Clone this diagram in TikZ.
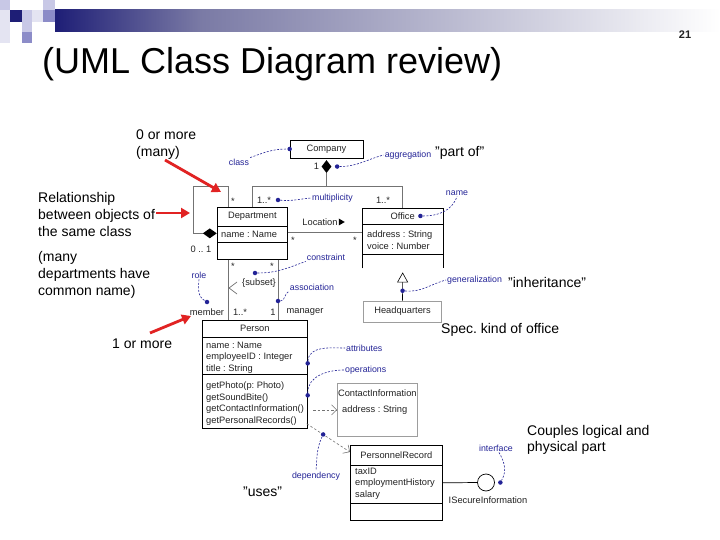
\documentclass[tikz,border=0pt]{standalone}
\usepackage{fontspec}
\setmainfont{Liberation Sans}
\usetikzlibrary{positioning,calc,arrows.meta,shapes.geometric}
\frenchspacing

\definecolor{notecol}{RGB}{35,35,150}
\definecolor{redarr}{RGB}{225,35,35}
\definecolor{navy}{RGB}{30,30,118}
\definecolor{barA}{RGB}{122,122,165}
\definecolor{barB}{RGB}{236,236,241}
\definecolor{lavM}{RGB}{140,140,200}
\definecolor{lavL}{RGB}{200,200,230}
\definecolor{lavXL}{RGB}{228,228,242}
\definecolor{linegray}{RGB}{115,115,115}
\definecolor{txtdark}{RGB}{35,35,35}

\newcommand{\umlfont}{\fontsize{9.3}{11.8}\selectfont}
\newcommand{\notefont}{\fontsize{8.8}{10}\selectfont}
\newcommand{\bigfont}{\fontsize{14}{17}\selectfont}

\begin{document}
\begin{tikzpicture}[x=1pt, y=-1pt,
	clsbox/.style={draw, line width=0.7pt, fill=white, inner sep=0pt,
		anchor=north west, font=\umlfont, text=txtdark},
	graybox/.style={clsbox, draw=linegray!70},
	clsline/.style={draw=black, line width=0.7pt},
	clstxt/.style={font=\umlfont, text=txtdark, inner sep=0pt},
	attrtxt/.style={clstxt, anchor=north west, align=left},
	mult/.style={font=\umlfont, text=txtdark, inner sep=0pt},
	assoc/.style={draw=linegray, line width=0.7pt},
	gen/.style={draw=black, line width=0.6pt, -{Triangle[open, length=10pt, width=11pt]}},
	dep/.style={draw=linegray, dash pattern=on 2.5pt off 2pt, line width=0.6pt,
		-{Straight Barb[length=5pt, width=10pt]}},
	notecurve/.style={notecol, dash pattern=on 2pt off 1.5pt, line width=0.6pt},
	notedot/.style={circle, fill=notecol, inner sep=0pt, minimum size=4.5pt},
	notelbl/.style={font=\notefont, text=notecol, inner sep=1pt},
	bigtxt/.style={font=\bigfont, inner sep=0pt, align=left},
	redarrow/.style={redarr, line width=2.8pt, -{Triangle[length=9pt, width=10pt]}}
]

\useasboundingbox (0,0) rectangle (720,540);
\fill[white] (0,0) rectangle (720,540);

% slide header
\fill[lavL]  (0,0)   rectangle (10,10);
\fill[lavXL] (0,10)  rectangle (10,43);
\fill[navy]  (10,10) rectangle (22,22);
\fill[lavL]  (22,10) rectangle (32,22);
\fill[lavXL] (32,10) rectangle (43,22);
\fill[lavL]  (43,0)  rectangle (55,10);
\fill[lavM]  (43,10) rectangle (55,22);
\fill[lavL]  (22,22) rectangle (32,32);
\fill[lavM]  (22,32) rectangle (32,43);
\shade[left color=navy, right color=barA] (55,10) rectangle (200,32);
\shade[left color=barA, middle color=barB, right color=white] (200,10) rectangle (720,32);

\node[font=\bfseries\fontsize{11}{12}\selectfont, text=txtdark] (pgno) at (685,35) {21};
\node[anchor=base west, inner sep=0pt, font=\fontsize{36}{40}\selectfont] (title) at (42,74) {(UML Class Diagram review)};

% classes
\node[clsbox, anchor=center, minimum width=73pt, minimum height=18pt] (comp) at (326.5,149) {Company};
\node[diamond, fill=black, inner sep=0pt, minimum width=10pt, minimum height=13pt, below=1.5pt of comp] (agg) {};
\node[mult, left=2pt of agg] (aggone) {1};

\node[clsbox, minimum width=70pt, minimum height=52pt] (dept) at (217,207) {};
\draw[clsline] ($(dept.north west)+(0,19)$) -- ++(70,0);
\draw[clsline] ($(dept.north west)+(0,35)$) -- ++(70,0);
\node[clstxt] (deptname) at ($(dept.north)+(0,9.5)$) {Department};
\node[clstxt, anchor=west] (deptattr) at ($(dept.north west)+(4,27)$) {name : Name};

\node[inner sep=0pt, anchor=north west, minimum width=81pt, minimum height=60pt] (office) at (362,208) {};
\draw[clsline] (office.south west) -- (office.north west) -- (office.north east) -- (office.south east);
\draw[clsline] ($(office.north west)+(0,16)$) -- ++(81,0);
\draw[clsline] ($(office.north west)+(0,46)$) -- ++(81,0);
\node[clstxt] (officename) at ($(office.north)+(0,8)$) {Office};
\node[attrtxt] (officeattr) at ($(office.north west)+(5,22.6)$) {address : String\\voice : Number};

\node[graybox, anchor=center, minimum width=78pt, minimum height=21pt] (hq) at (402.5,311.5) {Headquarters};

\node[clsbox, minimum width=105pt, minimum height=108pt] (person) at (202,320) {};
\draw[clsline] ($(person.north west)+(0,17)$) -- ++(105,0);
\draw[clsline] ($(person.north west)+(0,54)$) -- ++(105,0);
\node[clstxt] (personname) at ($(person.north)+(0,8.5)$) {Person};
\node[attrtxt, font=\fontsize{9.3}{11.5}\selectfont] (personattr) at ($(person.north west)+(4,21.6)$) {name : Name\\employeeID : Integer\\title : String};
\node[attrtxt, font=\fontsize{9.3}{11.7}\selectfont] (personops) at ($(person.north west)+(4,61.5)$) {getPhoto(p: Photo)\\getSoundBite()\\getContactInformation()\\getPersonalRecords()};

\node[graybox, minimum width=80pt, minimum height=53pt] (contact) at (337,383) {};
\node[clstxt] (contactname) at ($(contact.north)+(0,10)$) {ContactInformation};
\node[clstxt, anchor=west] (contactattr) at ($(contact.north west)+(5,27)$) {address : String};

\node[clsbox, minimum width=92pt, minimum height=75pt] (precord) at (350,445) {};
\draw[clsline] ($(precord.north west)+(0,20)$) -- ++(92,0);
\draw[clsline] ($(precord.north west)+(0,58)$) -- ++(92,0);
\node[clstxt] (precordname) at ($(precord.north)+(0,10)$) {PersonnelRecord};
\node[attrtxt] (precordattr) at ($(precord.north west)+(5,22.5)$) {taxID\\employmentHistory\\salary};

\node[draw, circle, line width=0.7pt, minimum size=17pt, inner sep=0pt] (iface) at (486,482.5) {};
\node[clstxt, below=5pt of iface, xshift=2pt] (ifacename) {ISecureInformation};

% relationships
\coordinate (jn) at ($(agg.south)+(0,13)$);
\draw[assoc] (agg.south) -- (jn);
\draw[assoc] (dept.north) |- (jn) -| (office.north);

\node[diamond, fill=black, inner sep=0pt, minimum width=14pt, minimum height=10pt, left=0pt of dept] (selfagg) {};
\draw[assoc] (selfagg.west) -| ($(dept.north west)+(-24,-21)$) -| ($(dept.north west)+(11,0)$);

\draw[assoc] ($(dept.north east)+(0,25)$) -- ($(office.north west)+(0,24)$);
\node[clstxt] (loc) at (320,222) {Location};
\fill[black] ($(loc.east)+(1,-3.5)$) -- ++(6,3.5) -- ++(-6,3.5) -- cycle;

\draw[assoc] ($(dept.south west)+(11,0)$) -- ($(person.north west)+(26,0)$);
\draw[assoc] ($(dept.south west)+(61,0)$) -- ($(person.north west)+(76,0)$);
\draw[assoc] (237,282) -- (229,288) -- (237,294);

\draw[gen] (hq.north) -- node[notedot, pos=0.35] (dgen) {} ($(office.south)+(0,4)$);

\draw[dep] ($(contact.west)+(-24,0)$) -- (contact.west);
\draw[dep] ($(person.south east)+(-1,-5)$) -- node[notedot, pos=0.38] (ddep) {} ($(precord.north west)+(0,7)$);

\draw[clsline] (precord.east) -- (iface.west);

% multiplicities and roles
\node[mult] (mdeptup) at (264,200) {1..*};
\node[mult] (mofficeup) at (383,200) {1..*};
\node[mult] (mself) at (233,201) {*};
\node[mult] (mselfagg) at (201,249) {0 .. 1};
\node[mult] (mlocl) at (293,240) {*};
\node[mult] (mlocr) at (355,240) {*};
\node[mult] (mmbup) at (233,266) {*};
\node[mult] (mmgup) at (272,266) {*};
\node[mult] (member) at (207,312) {member};
\node[mult] (mmb) at (240,312) {1..*};
\node[mult] (mmg) at (273,312) {1};
\node[mult] (manager) at (305,312) {manager};
\node[mult] (subset) at (259,283) {\{subset\}};

% blue notes
\node[notedot] (dclass) at (comp.west) {};
\node[notelbl] (nclass) at (239,162) {class};
\draw[notecurve] (nclass.north east) to[out=20, in=180] (dclass);

\node[notedot, right=3pt of agg] (dagg) {};
\node[notelbl] (nagg) at (408,155) {aggregation};
\draw[notecurve] (dagg) to[out=0, in=195] (nagg.west);

\node[notedot] (dmult) at (278,200) {};
\node[notelbl, anchor=west] (nmult) at (311,198) {multiplicity};
\draw[notecurve] (dmult) to[out=-5, in=185] (nmult.west);

\node[notedot, right=3pt of officename] (dname) {};
\node[notelbl] (nname) at (457,193) {name};
\draw[notecurve] (dname) to[out=0, in=-110] (nname.south);

\node[notedot] (dcons) at (255,273) {};
\node[notelbl] (ncons) at (326,257) {constraint};
\draw[notecurve] (dcons) to[out=0, in=200] (ncons.south west);

\node[notedot] (dassoc) at ($(person.north west)+(76,-19)$) {};
\node[notelbl] (nassoc) at (312,287) {association};
\draw[notecurve] (dassoc) to[out=0, in=200] (nassoc.south west);

\node[notelbl] (nrole) at (199,275) {role};
\node[notedot] (drole) at (207,302) {};
\draw[notecurve] (nrole.south) to[out=-95, in=150] (drole);

\node[notelbl, anchor=west] (ngen) at (446,280) {generalization};
\draw[notecurve] (dgen) to[out=-5, in=195] (ngen.west);

\node[notedot] (dattr) at ($(person.east)+(0,-11)$) {};
\node[notelbl, anchor=west] (nattr) at (345,348) {attributes};
\draw[notecurve] (dattr) to[out=85, in=180] (nattr.west);

\node[notedot] (dops) at ($(person.east)+(0,21)$) {};
\node[notelbl, anchor=west] (nops) at (344,370) {operations};
\draw[notecurve] (dops) to[out=90, in=180] (nops.west);

\node[notelbl] (ndep) at (316,476) {dependency};
\draw[notecurve] (ddep) to[out=-115, in=85] (ndep.north);

\node[notelbl] (niface) at (496,448) {interface};
\node[notedot] (diface) at ($(iface.east)+(5.5,0)$) {};
\draw[notecurve] ($(niface.south)+(3,0)$) to[out=-60, in=60] (diface);

% slide annotations
\node[bigtxt, anchor=north west] (nmany) at (136,130) {0 or more\\(many)};
\node[bigtxt, anchor=north west] (nrel) at (38,192) {Relationship\\between objects of\\the same class};
\node[bigtxt, anchor=north west] (ncommon) at (38,251) {(many\\departments have\\common name)};
\node[bigtxt, anchor=base west] (nonemore) at (112,348) {1 or more};
\node[bigtxt, anchor=base west] (partof) at (435,157) {"part of"};
\node[bigtxt, anchor=base west] (inher) at (508,287) {"inheritance"};
\node[bigtxt, anchor=base west] (nspec) at (441,333) {Spec. kind of office};
\node[bigtxt, anchor=north west, font=\fontsize{14}{16}\selectfont] (ncouple) at (527,425) {Couples logical and\\physical part};
\node[bigtxt, anchor=base west] (nuses) at (243,496) {"uses"};

% red pointers
\coordinate (rmanys) at (165,160);
\coordinate (rmanye) at (221,192);
\coordinate (rrels) at (156,213);
\coordinate (rrele) at (190,213);
\coordinate (rones) at (150,333);
\coordinate (ronee) at (191,316);
\draw[redarrow] (rmanys) -- (rmanye);
\draw[redarrow] (rrels) -- (rrele);
\draw[redarrow] (rones) -- (ronee);

\end{tikzpicture}
\end{document}
